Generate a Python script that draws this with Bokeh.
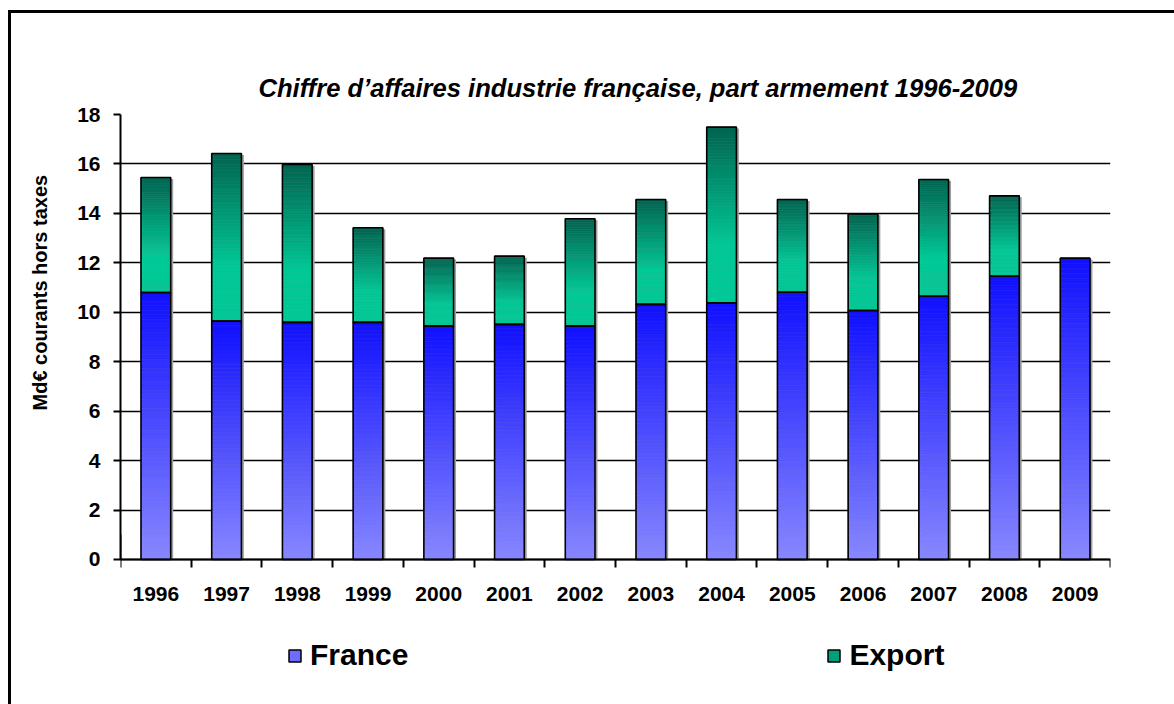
from bokeh.plotting import figure
from bokeh.models import FixedTicker, Legend, LegendItem, Range1d, Title
from bokeh.embed import file_html
from bokeh.resources import INLINE

years = ["1996", "1997", "1998", "1999", "2000", "2001", "2002",
         "2003", "2004", "2005", "2006", "2007", "2008", "2009"]
france = [10.80, 9.64, 9.59, 9.59, 9.44, 9.51, 9.44,
          10.32, 10.38, 10.81, 10.07, 10.65, 11.46, 12.19]
export = [4.65, 6.78, 6.39, 3.83, 2.75, 2.76, 4.34,
          4.24, 7.11, 3.75, 3.91, 4.72, 3.25, 0.0]
y_ticks = [0, 2, 4, 6, 8, 10, 12, 14, 16, 18]

FONT = "Liberation Sans"
BAR_W = 0.42
N = 60


def hexc(c):
    return "#%02x%02x%02x" % tuple(int(round(v)) for v in c)


def lerp(a, b, t):
    return tuple(a[i] + (b[i] - a[i]) * t for i in range(3))


FR_TOP, FR_BOT = (16, 16, 255), (136, 136, 255)
EX_TOP, EX_BRIGHT = (0, 100, 80), (0, 200, 150)

# frame extends below 0 to hold the axis labels and the legend
p = figure(width=1170, height=680, output_backend="svg", toolbar_location=None,
           x_range=Range1d(-0.5, len(years) - 0.5), y_range=Range1d(-5.3, 18),
           min_border_left=120, min_border_right=60, min_border_top=100,
           min_border_bottom=4)
p.outline_line_color = None
p.background_fill_color = "white"
p.border_fill_color = "white"

xs = list(range(len(years)))
totals = [f + e for f, e in zip(france, export)]

# shadows
p.vbar(x=[x + 0.035 for x in xs], bottom=0, top=[t - 0.06 for t in totals],
       width=BAR_W, fill_color="#a0a0a0", line_color=None)

# gradient slices
sx, sb, st, sc = [], [], [], []
for i, x in enumerate(xs):
    f = france[i]
    for k in range(N):
        b = f * k / N
        t = f * (k + 1) / N
        frac_from_top = 1 - (k + 0.5) / N
        sx.append(x); sb.append(b); st.append(t)
        sc.append(hexc(lerp(FR_TOP, FR_BOT, frac_from_top)))
    e = export[i]
    if e > 0:
        for k in range(N):
            b = f + e * k / N
            t = f + e * (k + 1) / N
            frac_from_top = 1 - (k + 0.5) / N
            tt = min(frac_from_top / 0.67, 1.0)
            sx.append(x); sb.append(b); st.append(t)
            sc.append(hexc(lerp(EX_TOP, EX_BRIGHT, tt)))
p.vbar(x=sx, bottom=sb, top=st, width=BAR_W, fill_color=sc, line_color=sc,
       line_width=0.5)

# outlines
p.vbar(x=xs, bottom=0, top=france, width=BAR_W, fill_alpha=0,
       line_color="black", line_width=1.6)
ex_x = [x for x, e in zip(xs, export) if e > 0]
ex_b = [f for f, e in zip(france, export) if e > 0]
ex_t = [f + e for f, e in zip(france, export) if e > 0]
p.vbar(x=ex_x, bottom=ex_b, top=ex_t, width=BAR_W, fill_alpha=0,
       line_color="black", line_width=1.6)

# legend proxies (outside the visible range)
r_fr = p.vbar(x=[-10], bottom=[0], top=[1], width=0.4, fill_color="#6c6cff",
              line_color="black", line_width=1.5)
r_ex = p.vbar(x=[-10], bottom=[0], top=[1], width=0.4, fill_color="#00a07c",
              line_color="black", line_width=1.5)

# x axis placed at y = 0
xa = p.xaxis[0]
xa.fixed_location = 0
xa.ticker = FixedTicker(ticks=xs, minor_ticks=[x - 0.5 for x in xs] + [len(xs) - 0.5])
xa.major_label_overrides = {x: y for x, y in zip(xs, years)}
xa.major_tick_out = 0
xa.major_tick_in = 0
xa.minor_tick_out = 8
xa.minor_tick_in = 0
xa.minor_tick_line_color = "black"
xa.minor_tick_line_width = 2
xa.axis_line_color = "black"
xa.axis_line_width = 2
xa.major_label_text_font = FONT
xa.major_label_text_font_style = "bold"
xa.major_label_text_font_size = "21px"
xa.major_label_text_color = "black"
xa.major_label_standoff = 20

ya = p.yaxis[0]
ya.bounds = (0, 18)
ya.ticker = FixedTicker(ticks=y_ticks, minor_ticks=[])
ya.major_tick_out = 7
ya.major_tick_in = 0
ya.major_tick_line_color = "black"
ya.major_tick_line_width = 2
ya.axis_line_color = "black"
ya.axis_line_width = 2
ya.major_label_text_font = FONT
ya.major_label_text_font_style = "bold"
ya.major_label_text_font_size = "21px"
ya.major_label_text_color = "black"
ya.major_label_standoff = 13

ylab = Title(text="Md€ courants hors taxes", align="left", offset=280,
             standoff=48, text_font=FONT, text_font_style="bold",
             text_font_size="20px", text_color="black")
p.add_layout(ylab, "left")

p.xgrid.visible = False
p.ygrid.ticker = FixedTicker(ticks=y_ticks)
p.ygrid.grid_line_color = "black"
p.ygrid.grid_line_width = 1.3
p.ygrid.level = "underlay"

p.title.text = "Chiffre d’affaires industrie française, part armement  1996-2009"
p.title.text_font = FONT
p.title.text_font_style = "bold italic"
p.title.text_font_size = "25.6px"
p.title.text_color = "black"
p.title.align = "left"
p.title.offset = 138
p.title.standoff = 26

legend = Legend(items=[LegendItem(label="France", renderers=[r_fr]),
                       LegendItem(label="Export", renderers=[r_ex])],
                orientation="horizontal", location=(167, 18),
                glyph_width=15, glyph_height=15, label_standoff=8,
                spacing=418, margin=0, padding=10,
                border_line_color=None, background_fill_alpha=0,
                label_text_font=FONT, label_text_font_style="bold",
                label_text_font_size="30px", label_text_color="black")
p.add_layout(legend, "center")

html = file_html(p, INLINE)
css = ("<style>body{padding:14px 0 0 0 !important;}"
       "body::before{content:'';position:fixed;left:8px;top:10px;right:-10px;"
       "bottom:-10px;border-left:3px solid #000;border-top:3px solid #000;"
       "pointer-events:none;z-index:10;}</style>")
html = html.replace("</head>", css + "</head>", 1)
open("out.html", "w").write(html)
